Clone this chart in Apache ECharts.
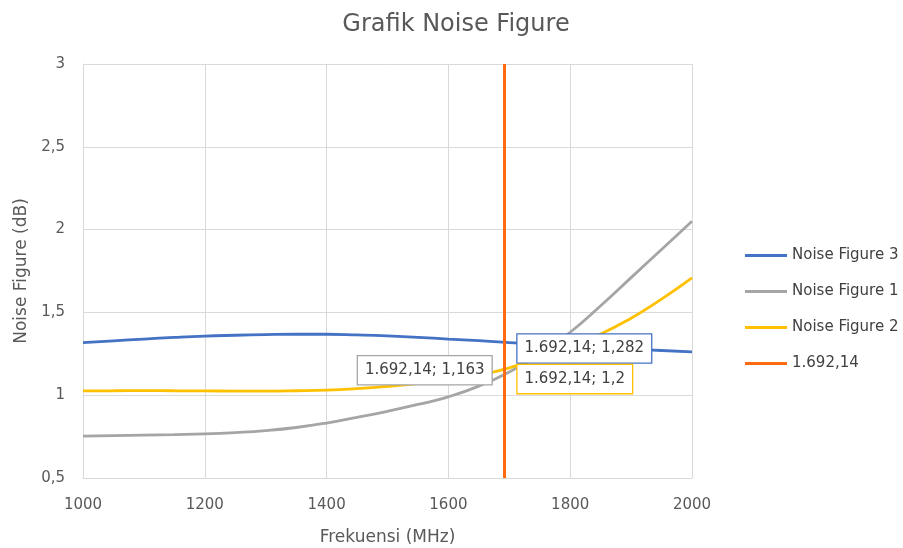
<!DOCTYPE html>
<html>
<head>
<meta charset="utf-8">
<script src="https://cdn.jsdelivr.net/npm/echarts@6/dist/echarts.min.js"></script>
<style>html,body{margin:0;padding:0;background:#fff}#c{width:903px;height:548px}</style>
</head>
<body>
<div id="c"></div>
<script>
var freq = [1000,1050,1100,1150,1200,1250,1300,1350,1400,1450,1500,1550,1600,1650,1700,1750,1800,1850,1900,1950,2000];
var nf3 = [1.317,1.328,1.339,1.349,1.357,1.362,1.366,1.368,1.368,1.364,1.358,1.349,1.339,1.329,1.318,1.307,1.297,1.287,1.278,1.270,1.262];
var nf1 = [0.753,0.756,0.759,0.762,0.766,0.774,0.786,0.805,0.832,0.866,0.903,0.944,0.990,1.055,1.140,1.250,1.380,1.540,1.710,1.880,2.050];
var nf2 = [1.026,1.027,1.028,1.027,1.026,1.025,1.025,1.027,1.031,1.040,1.053,1.070,1.092,1.122,1.165,1.230,1.300,1.370,1.465,1.580,1.708];
var markerX = 1692.14;
var markerLine = [0.5, 3];
var labelNF3 = '1.692,14; 1,282', valNF3 = 1.282;
var labelNF1 = '1.692,14; 1,163', valNF1 = 1.163;
var labelNF2 = '1.692,14; 1,2', valNF2 = 1.2;
var yTicks = {0.5:'0,5',1:'1',1.5:'1,5',2:'2',2.5:'2,5',3:'3'};

function pairs(ys){ return freq.map(function(x,i){ return [x, ys[i]]; }); }
var FONT = 'DejaVu Sans';
function mp(coord, text, color, pos, off){
  return {
    symbol: 'circle', symbolSize: 0,
    data: [{coord: coord}],
    label: {
      show: true, position: pos, offset: off, formatter: text,
      color: '#404040', fontSize: 15, fontFamily: FONT,
      backgroundColor: '#fff', borderColor: color, borderWidth: 1.3,
      padding: [7, 7, 6, 7]
    }
  };
}
var chart = echarts.init(document.getElementById('c'), null, {renderer:'canvas'});
chart.setOption({
  animation: false,
  backgroundColor: '#fff',
  title: {
    text: 'Grafik Noise Figure', left: 451, top: 8, textAlign: 'center',
    textStyle: {color:'#595959', fontSize: 24, fontWeight: 'normal', fontFamily: FONT}
  },
  legend: {
    orient: 'vertical', left: 740, top: 243, itemWidth: 42, itemHeight: 3, itemGap: 21,
    icon: 'rect',
    textStyle: {color:'#404040', fontSize: 15, fontFamily: FONT},
    data: ['Noise Figure 3','Noise Figure 1','Noise Figure 2','1.692,14']
  },
  grid: {left: 83, right: 211, top: 64, bottom: 70, containLabel: false, outerBoundsMode: 'none'},
  xAxis: {
    type: 'value', min: 1000, max: 2000, interval: 200,
    name: 'Frekuensi (MHz)', nameLocation: 'middle', nameGap: 51,
    nameTextStyle: {color:'#595959', fontSize: 17, fontFamily: FONT},
    axisLine: {show: true, lineStyle: {color:'#d9d9d9', width: 1}},
    axisTick: {show: false},
    axisLabel: {color:'#595959', fontSize: 15, fontFamily: FONT, margin: 20,
      formatter: function(v){ return String(v); }},
    splitLine: {show: true, lineStyle: {color:'#d9d9d9', width: 1}}
  },
  yAxis: {
    type: 'value', min: 0.5, max: 3, interval: 0.5,
    name: 'Noise Figure (dB)', nameLocation: 'middle', nameGap: 52,
    nameTextStyle: {color:'#595959', fontSize: 17, fontFamily: FONT},
    axisLine: {show: true, lineStyle: {color:'#d9d9d9', width: 1}},
    axisTick: {show: false},
    axisLabel: {color:'#595959', fontSize: 15, fontFamily: FONT, margin: 18,
      formatter: function(v){ return yTicks[v] !== undefined ? yTicks[v] : String(v).replace('.', ','); }},
    splitLine: {show: true, lineStyle: {color:'#d9d9d9', width: 1}}
  },
  series: [
    {name:'Noise Figure 3', type:'line', smooth: true, showSymbol: false, symbol:'none',
     data: pairs(nf3), lineStyle:{color:'#4472C4', width: 2.8}, itemStyle:{color:'#4472C4'}, z: 3,
     markPoint: mp([markerX, valNF3], labelNF3, '#4472C4', 'right', [8, 0])},
    {name:'Noise Figure 1', type:'line', smooth: true, showSymbol: false, symbol:'none',
     data: pairs(nf1), lineStyle:{color:'#A5A5A5', width: 2.8}, itemStyle:{color:'#A5A5A5'}, z: 3,
     markPoint: mp([markerX, valNF1], labelNF1, '#A5A5A5', 'left', [-8, 2])},
    {name:'Noise Figure 2', type:'line', smooth: true, showSymbol: false, symbol:'none',
     data: pairs(nf2), lineStyle:{color:'#FFC000', width: 2.8}, itemStyle:{color:'#FFC000'}, z: 3,
     markPoint: mp([markerX, valNF2], labelNF2, '#FFC000', 'right', [8, 17])},
    {name:'1.692,14', type:'line', showSymbol: false, symbol:'none',
     data: markerLine.map(function(y){ return [markerX, y]; }),
     lineStyle:{color:'#FF6A10', width: 3}, itemStyle:{color:'#FF6A10'}, z: 4}
  ]
});
</script>
</body>
</html>
